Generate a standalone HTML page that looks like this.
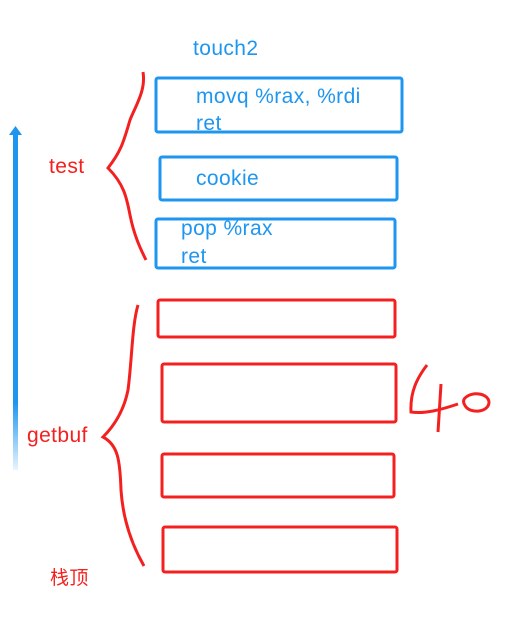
<!DOCTYPE html>
<html><head><meta charset="utf-8"><style>
html,body{margin:0;padding:0;background:#fff;width:531px;height:627px;overflow:hidden}
.t{position:absolute;font-family:"Liberation Sans","Noto Sans CJK SC",sans-serif;font-size:21px;letter-spacing:0.4px;line-height:1;white-space:nowrap}
.b{color:#1e96f0}.r{color:#f42020}
</style></head><body>
<svg width="531" height="627" style="position:absolute;left:0;top:0">
<defs><linearGradient id="g" x1="0" y1="0" x2="0" y2="1">
<stop offset="0" stop-color="#1e96f0"/><stop offset="0.8" stop-color="#1e96f0"/><stop offset="1" stop-color="#1e96f0" stop-opacity="0.1"/></linearGradient></defs>
<rect x="13" y="134" width="5" height="336" fill="url(#g)"/>
<polygon points="15.5,126 9,135 22,135" fill="#1e96f0"/>
<g fill="none" stroke="#1e96f0" stroke-width="3">
<rect x="156" y="78" width="246" height="54" rx="2"/>
<rect x="160" y="157" width="237" height="43" rx="2"/>
<rect x="156" y="219" width="239" height="49" rx="2"/>
</g>
<g fill="none" stroke="#f42020" stroke-width="3">
<rect x="158" y="300" width="237" height="37" rx="2"/>
<rect x="162" y="364" width="234" height="58" rx="2"/>
<rect x="162" y="454" width="232" height="43" rx="2"/>
<rect x="163" y="527" width="234" height="45" rx="2"/>
<path d="M143,72 C146,90 136,105 130,120 C124,140 122,150 108,168 C125,185 127,200 130,215 C134,235 140,248 146,260"/>
<path d="M138,305 C132,325 132,360 128,390 C124,410 115,425 103,437 C118,445 120,460 121,490 C123,520 132,545 144,566"/>
<path d="M427,365 C417,378 410,392 411,412 C425,414 440,410 458,404 M441,384 L438,432 M465,398 C472,391 488,393 489,402 C489,412 472,414 466,407 C463,403 463,400 465,398"/>
</g>
</svg>
<div class="t b" style="left:193px;top:38px">touch2</div>
<div class="t b" style="left:196px;top:86px">movq %rax, %rdi</div>
<div class="t b" style="left:196px;top:113px">ret</div>
<div class="t b" style="left:196px;top:168px">cookie</div>
<div class="t b" style="left:181px;top:218px">pop %rax</div>
<div class="t b" style="left:181px;top:246px">ret</div>
<div class="t r" style="left:49px;top:156px">test</div>
<div class="t r" style="left:27px;top:425px">getbuf</div>
<div class="t r" style="left:50px;top:569px;font-size:19px">栈顶</div>
</body></html>
